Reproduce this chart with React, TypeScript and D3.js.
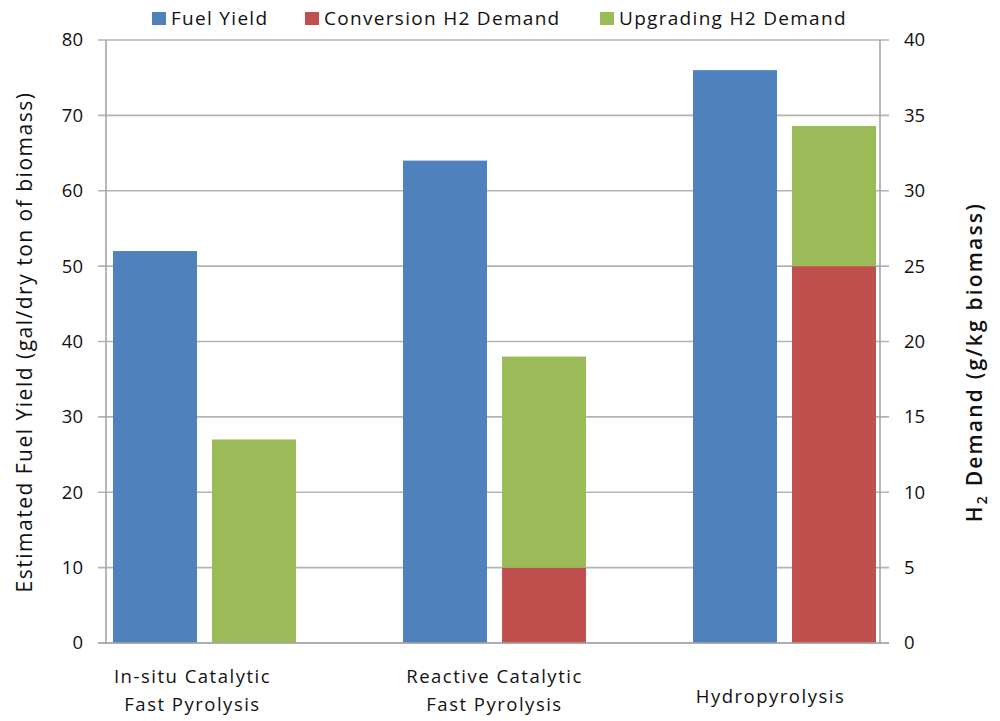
import React from "react";
import * as d3 from "d3";

const categories = ["In-situ Catalytic\nFast Pyrolysis", "Reactive Catalytic\nFast Pyrolysis", "Hydropyrolysis"];
const fuelYield = [52, 64, 76];
const conversionH2 = [0, 5, 25];
const upgradingH2 = [13.5, 14, 9.3];
const leftTicks = [0, 10, 20, 30, 40, 50, 60, 70, 80];
const rightTicks = [0, 5, 10, 15, 20, 25, 30, 35, 40];
const legendItems = [
  { label: "Fuel Yield", color: "#4F81BD" },
  { label: "Conversion H2 Demand", color: "#C0504D" },
  { label: "Upgrading H2 Demand", color: "#9BBB59" },
];

const W = 1000, H = 721;
const plotL = 106, plotR = 880, plotT = 40, plotB = 643;
const FONT = "'Open Sans', Lato, sans-serif";

export default function App() {
  const yL = d3.scaleLinear().domain([0, 80]).range([plotB, plotT]);
  const yR = d3.scaleLinear().domain([0, 40]).range([plotB, plotT]);
  const x = d3.scalePoint<string>().domain(categories).range([204.5, 784.5]);
  const sub = d3.scaleBand<string>().domain(["fuel", "h2"]).range([-91.5, 91.5]).paddingInner(0.152);
  const bw = sub.bandwidth();

  const stackData = categories.map((c, i) => ({ c, conv: conversionH2[i], upg: upgradingH2[i] }));
  const stacked = d3.stack<any>().keys(["conv", "upg"])(stackData);
  const stackColors = ["#C0504D", "#9BBB59"];

  return (
    <svg width={W} height={H} style={{ position: "absolute", left: 0, top: 0, background: "#fff" }} fontFamily={FONT}>
      {leftTicks.map((t) => (
        <line key={"g" + t} x1={plotL - 8} x2={plotR + 9} y1={yL(t)} y2={yL(t)} stroke="#b3b3b3" strokeWidth={1.6} />
      ))}
      {categories.map((c, i) => (
        <rect key={"f" + i} x={(x(c) as number) + (sub("fuel") as number)} y={yL(fuelYield[i])}
          width={bw} height={plotB - yL(fuelYield[i])} fill="#4F81BD" />
      ))}
      {stacked.map((layer, li) =>
        layer.map((d, i) => {
          const h = yR(d[0]) - yR(d[1]);
          if (h <= 0) return null;
          return (
            <rect key={"s" + li + "-" + i} x={(x(categories[i]) as number) + (sub("h2") as number)} y={yR(d[1])}
              width={bw} height={h} fill={stackColors[li]} />
          );
        })
      )}
      <line x1={plotL} x2={plotL} y1={plotT} y2={plotB} stroke="#a6a6a6" strokeWidth={1.6} />
      <line x1={plotR} x2={plotR} y1={plotT} y2={plotB} stroke="#a6a6a6" strokeWidth={1.6} />
      <line x1={plotL - 8} x2={plotR + 9} y1={plotB} y2={plotB} stroke="#a6a6a6" strokeWidth={1.6} />
      {leftTicks.map((t) => (
        <text key={"l" + t} x={83} y={yL(t)} dy="0.35em" textAnchor="end" fontSize={18.5} fill="#111">{t}</text>
      ))}
      {rightTicks.map((t) => (
        <text key={"r" + t} x={904} y={yR(t)} dy="0.35em" textAnchor="start" fontSize={18.5} fill="#111">{t}</text>
      ))}
      {categories.map((c, i) => {
        const lines = c.split("\n");
        const cx = (x(c) as number) + (i === 0 ? -12 : i === 2 ? -14 : 0);
        const y0 = lines.length === 1 ? 703 : 683;
        return (
          <text key={"c" + c} x={cx} y={y0} textAnchor="middle" fontSize={18.5} letterSpacing={1.5} fill="#111">
            {lines.map((ln, k) => (
              <tspan key={k} x={cx} dy={k === 0 ? 0 : 28}>{ln}</tspan>
            ))}
          </text>
        );
      })}
      <text transform={`translate(32,342) rotate(-90)`} textAnchor="middle" fontSize={21} letterSpacing={1.5} fill="#111">
        Estimated Fuel Yield (gal/dry ton of biomass)
      </text>
      <text transform={`translate(982,362) rotate(-90)`} textAnchor="middle" fontSize={21} letterSpacing={2.2} fill="#111" fontWeight={600}>
        H<tspan fontSize={14} dy={5}>2</tspan><tspan dy={-5}> Demand (g/kg biomass)</tspan>
      </text>
      {(() => {
        const starts = [152, 305, 600];
        return legendItems.map((it, i) => (
          <g key={"lg" + i}>
            <rect x={starts[i]} y={12} width={14} height={13} fill={it.color} />
            <text x={starts[i] + 19} y={25} fontSize={19} letterSpacing={1.3} fill="#111">{it.label}</text>
          </g>
        ));
      })()}
    </svg>
  );
}
